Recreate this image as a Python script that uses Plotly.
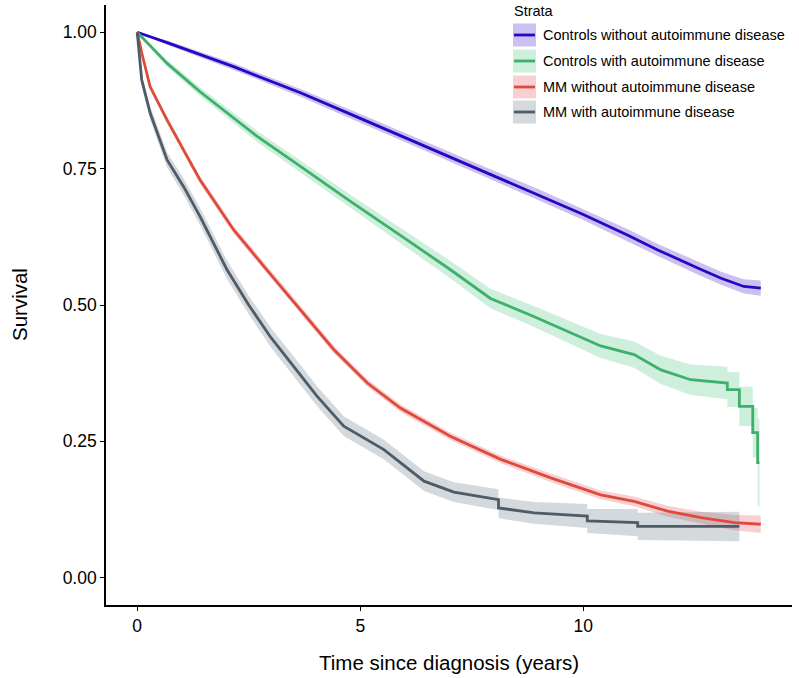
import plotly.graph_objects as go

# ---- data ----
strata = ["Controls without autoimmune disease", "Controls with autoimmune disease",
          "MM without autoimmune disease", "MM with autoimmune disease"]

blue_t = [0, 0.67, 2.16, 3.66, 4.78, 6.0, 7.0, 8.0, 9.0, 10.0, 11.0, 11.67, 12.64, 13.09, 13.6, 13.98]
blue_s = [1.0, 0.981, 0.937, 0.889, 0.850, 0.807, 0.772, 0.737, 0.702, 0.666, 0.628, 0.601, 0.565, 0.549, 0.534, 0.531]
blue_hw = [0, 0.004, 0.006, 0.007, 0.008, 0.008, 0.009, 0.009, 0.010, 0.010, 0.011, 0.011, 0.012, 0.012, 0.013, 0.014]

green_t = [0, 0.67, 1.41, 2.69, 3.66, 4.78, 6.0, 7.0, 7.92, 8.89, 10.39, 11.14, 11.74, 12.41, 13.23, 13.23,
           13.5, 13.5, 13.8, 13.8, 13.91, 13.91, 13.95]
green_s = [1.0, 0.943, 0.891, 0.809, 0.754, 0.690, 0.622, 0.566, 0.512, 0.479, 0.425, 0.409, 0.381, 0.363, 0.357, 0.345,
           0.345, 0.314, 0.314, 0.266, 0.266, 0.211, 0.211]
green_hw = [0, 0.006, 0.008, 0.010, 0.011, 0.012, 0.014, 0.016, 0.018, 0.019, 0.022, 0.024, 0.026, 0.028, 0.030, 0.032,
            0.032, 0.036, 0.036, 0.045, 0.045, 0.08, 0.08]

red_t = [0, 0.105, 0.29, 0.67, 1.41, 2.16, 2.9, 3.66, 4.41, 5.16, 5.9, 7.03, 8.15, 9.27, 10.39, 11.14, 11.89, 12.64, 13.39, 13.98]
red_s = [1.0, 0.961, 0.900, 0.839, 0.729, 0.638, 0.565, 0.492, 0.418, 0.357, 0.311, 0.259, 0.217, 0.183, 0.152, 0.140, 0.122, 0.110, 0.101, 0.098]
red_hw = [0, 0.004, 0.005, 0.006, 0.007, 0.007, 0.007, 0.007, 0.007, 0.007, 0.007, 0.007, 0.007, 0.008, 0.008, 0.009, 0.010, 0.011, 0.014, 0.016]

grey_t = [0, 0.05, 0.1, 0.29, 0.67, 1.04, 1.41, 2.01, 2.5, 3.0, 3.66, 4.03, 4.63, 5.53, 6.43, 7.1, 8.1, 8.1, 8.9,
          10.09, 10.09, 11.22, 11.22, 13.5]
grey_s = [1.0, 0.962, 0.913, 0.852, 0.766, 0.717, 0.662, 0.565, 0.50, 0.44, 0.372, 0.333, 0.278, 0.235, 0.177, 0.157, 0.143, 0.128, 0.119,
          0.113, 0.104, 0.101, 0.094, 0.094]
grey_hw = [0, 0.006, 0.010, 0.012, 0.014, 0.015, 0.016, 0.017, 0.017, 0.018, 0.018, 0.018, 0.018, 0.018, 0.018, 0.018, 0.019, 0.019, 0.020,
           0.022, 0.022, 0.025, 0.025, 0.027]

x_ticks = [0, 5, 10]
y_ticks = [0, 0.25, 0.5, 0.75, 1.0]
y_ticklabels = ["0.00", "0.25", "0.50", "0.75", "1.00"]
x_title = "Time since diagnosis (years)"
y_title = "Survival"

colors = ["#2A06C4", "#3DB06C", "#DF4B3B", "#4F5B66"]
fills = ["rgba(42,6,196,0.25)", "rgba(61,190,110,0.25)", "rgba(230,85,100,0.28)", "rgba(79,105,120,0.25)"]

series = [(blue_t, blue_s, blue_hw), (green_t, green_s, green_hw),
          (red_t, red_s, red_hw), (grey_t, grey_s, grey_hw)]

FONT = "Liberation Sans, Arial, Helvetica, sans-serif"
fig = go.Figure()

for (t, s, hw), fc in zip(series, fills):
    up = [a + b for a, b in zip(s, hw)]
    lo = [a - b for a, b in zip(s, hw)]
    fig.add_trace(go.Scatter(x=t + t[::-1], y=up + lo[::-1], fill="toself", fillcolor=fc,
                             line=dict(width=0), mode="lines", showlegend=False, hoverinfo="skip"))

for (t, s, hw), c, name in zip(series, colors, strata):
    fig.add_trace(go.Scatter(x=t, y=s, mode="lines", line=dict(color=c, width=2.8),
                             name=name, showlegend=False))

# ---- layout helpers (page pixel -> paper); body margin removed via post_script ----
W, H = 799, 678
L, R, T, B = 106, 7, 5, 73
pw, ph = W - L - R, H - T - B


def px(x):
    return (x - L) / pw


def py(y):
    return (H - B - y) / ph


shapes = []
annotations = []
# axis titles
annotations.append(dict(x=px(449), y=py(662), xref="paper", yref="paper", text=x_title, showarrow=False,
                        xanchor="center", yanchor="middle", font=dict(family=FONT, size=20.5, color="#000")))
annotations.append(dict(x=px(19), y=py(305), xref="paper", yref="paper", text=y_title, showarrow=False,
                        textangle=-90, xanchor="center", yanchor="middle",
                        font=dict(family=FONT, size=20.5, color="#000")))
# legend (ggplot style keys)
annotations.append(dict(x=px(512), y=py(11), xref="paper", yref="paper", text="Strata", showarrow=False,
                        xanchor="left", yanchor="middle", font=dict(family=FONT, size=14.5, color="#000")))
row_y = [35, 61, 87, 112]
for yc, c, fc, name in zip(row_y, colors, fills, strata):
    shapes.append(dict(type="rect", xref="paper", yref="paper", x0=px(513), x1=px(536),
                       y0=py(yc - 11.5), y1=py(yc + 11.5), fillcolor=fc, line=dict(width=0), layer="above"))
    shapes.append(dict(type="line", xref="paper", yref="paper", x0=px(514), x1=px(535),
                       y0=py(yc), y1=py(yc), line=dict(color=c, width=2.8), layer="above"))
    annotations.append(dict(x=px(541), y=py(yc), xref="paper", yref="paper", text=name, showarrow=False,
                            xanchor="left", yanchor="middle", font=dict(family=FONT, size=14.5, color="#000")))

fig.update_layout(
    width=W, height=H,
    margin=dict(l=L, r=R, t=T, b=B, pad=0),
    paper_bgcolor="white", plot_bgcolor="white",
    font=dict(family=FONT, color="#000"),
    shapes=shapes, annotations=annotations,
    xaxis=dict(range=[-0.7, 14.68], tickvals=x_ticks, ticks="outside", ticklen=4, tickwidth=1.3,
               tickcolor="#000", showline=True, linecolor="#000", linewidth=1.6, showgrid=False,
               zeroline=False, tickfont=dict(size=17.5, color="#000")),
    yaxis=dict(range=[-0.05, 1.05], tickvals=y_ticks, ticktext=y_ticklabels, ticks="outside", ticklen=4,
               tickwidth=1.3, tickcolor="#000", showline=True, linecolor="#000", linewidth=1.6,
               showgrid=False, zeroline=False, tickfont=dict(size=17.5, color="#000")),
)

fig.write_html("out.html", config={"displayModeBar": False},
               post_script="document.body.style.margin='0';document.body.style.overflow='hidden';")
